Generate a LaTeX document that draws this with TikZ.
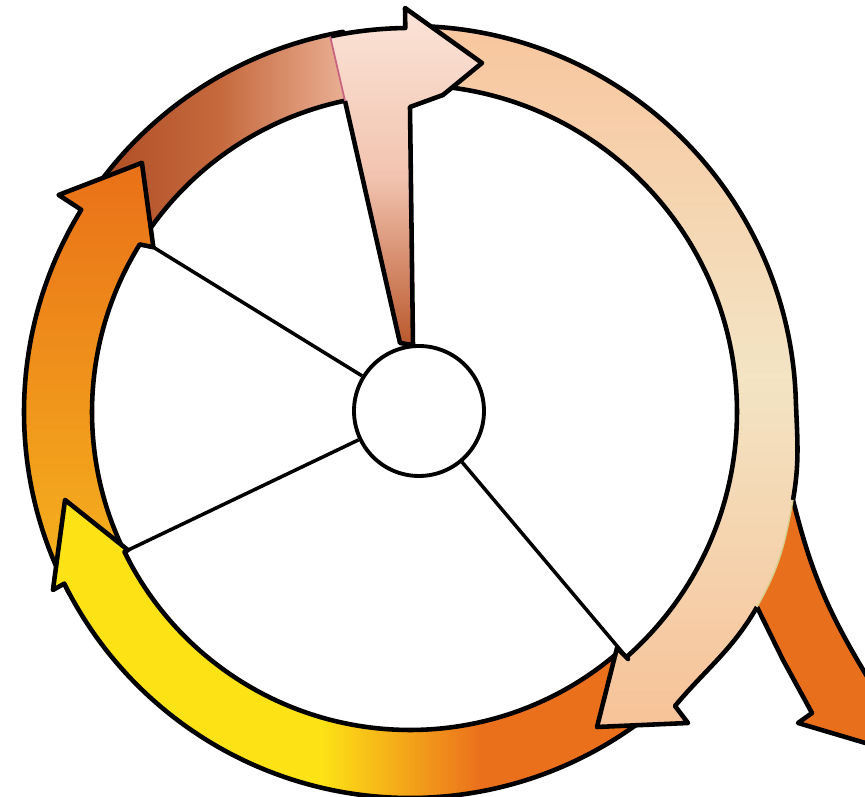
\documentclass[tikz,border=0pt]{standalone}
\usetikzlibrary{positioning}
\definecolor{tailorange}{RGB}{232,112,28}
\definecolor{brownD}{RGB}{172,74,34}
\definecolor{brownM}{RGB}{198,106,62}
\definecolor{brownL}{RGB}{236,180,154}
\definecolor{leftorange}{RGB}{233,112,24}
\definecolor{leftyellow}{RGB}{246,180,30}
\definecolor{bandyellow}{RGB}{253,226,22}
\definecolor{bandorange}{RGB}{235,112,28}
\definecolor{peachA}{RGB}{248,198,158}
\definecolor{peachB}{RGB}{243,228,196}
\definecolor{peachC}{RGB}{247,194,152}
\definecolor{pinkA}{RGB}{251,228,216}
\definecolor{pinkB}{RGB}{242,196,176}
\definecolor{pinkC}{RGB}{186,88,44}
\definecolor{seamgreen}{RGB}{214,206,140}
\definecolor{seampink}{RGB}{200,100,130}
\pgfdeclarehorizontalshading{yellowband}{100bp}{color(0bp)=(bandyellow); color(47bp)=(bandyellow); color(60bp)=(bandorange); color(100bp)=(bandorange)}

\begin{document}
\begin{tikzpicture}[x=0.1mm,y=0.1mm,
    bandline/.style={line width=1.3pt, line join=round},
    spoke/.style={line width=1pt}]
  \useasboundingbox (-410,-385) rectangle (455,412);
  \clip (-410,-385) rectangle (455,412);
  % ring centre at the origin, outer radius 386, inner 318
  \coordinate (p2) at (383,-88);
  \coordinate (p3) at (347,-195);
  % orange tail leaving the ring at the lower right
  \fill[tailorange] (p2) to[out=-76,in=121] (455,-261) -- (506,-346) -- (388,-311) -- (402,-301) -- (373,-248) -- (p3) -- (330,-120) -- cycle;
  \draw[bandline] (p2) to[out=-76,in=121] (455,-261) -- (506,-346) -- (388,-311) -- (402,-301) -- (373,-248) -- (p3);
  % brown band, upper left
  \draw[bandline, left color=brownD, right color=brownL, middle color=brownM] (146.5:386) arc[start angle=146.5, end angle=100, radius=386] -- (100:318) arc[start angle=100, end angle=146.5, radius=318] -- cycle;
  % orange band, left
  \draw[bandline, top color=leftorange, bottom color=leftyellow] (208:386) arc[start angle=208, end angle=148.4, radius=386] -- (148.3:413) -- (137.1:366) -- (147.3:305) coordinate (ohin) -- (148.2:318) arc[start angle=148.2, end angle=208, radius=318] -- cycle;
  % yellow band, bottom
  \draw[bandline, shading=yellowband] (311:386) arc[start angle=311, end angle=206.4, radius=386] -- (206.5:399) -- (194.3:356) -- (206.1:314) coordinate (yhin) -- (206.1:318) arc[start angle=206.1, end angle=311, radius=318] -- cycle;
  % peach band, right
  \shade[top color=peachA, bottom color=peachC, middle color=peachB] (89:386) arc[start angle=89, end angle=2, radius=386] to[out=-88,in=80] (p2) to[out=-100,in=60] (p3) to[out=-120,in=50] (265,-294) -- (278,-311) -- (187,-315) -- (207,-236) -- (218,-247) -- (-48.6:327) arc[start angle=-48.6, end angle=89, radius=327] -- cycle;
  \draw[bandline] (p3) to[out=-120,in=50] (265,-294) -- (278,-311) -- (187,-315) -- (207,-236) -- (218,-247) coordinate (phin) -- (-48.6:327) arc[start angle=-48.6, end angle=89, radius=327] -- (89:386) arc[start angle=89, end angle=2, radius=386] to[out=-88,in=80] (p2);
  \draw[line width=0.4pt, seamgreen] (p2) to[out=-100,in=60] (p3);
  % pink wedge with its arrow head, top
  \coordinate (pwtl) at (102:384);
  \coordinate (pwmid) at (-65,311);
  \shade[top color=pinkA, bottom color=pinkC, middle color=pinkB] (pwtl) arc[start angle=102, end angle=90.7, radius=384] -- (-5,404) -- (72,349) -- (33,317) -- (0,305) -- (3,67) -- (-10,69) -- cycle;
  \draw[bandline] (pwtl) arc[start angle=102, end angle=90.7, radius=384] -- (-5,404) -- (72,349) -- (33,317) -- (0,305) -- (3,67) -- (-10,69) -- (pwmid);
  \draw[line width=0.5pt, seampink] (pwmid) -- (pwtl);
  % hub and spokes
  \node[circle, draw, line width=1.1pt, fill=white, minimum size=13mm, inner sep=0pt] (hub) at (9,1) {};
  \draw[spoke] (hub) -- (ohin);
  \draw[spoke] (hub) -- (yhin);
  \draw[spoke] (hub) -- (phin);
\end{tikzpicture}
\end{document}
